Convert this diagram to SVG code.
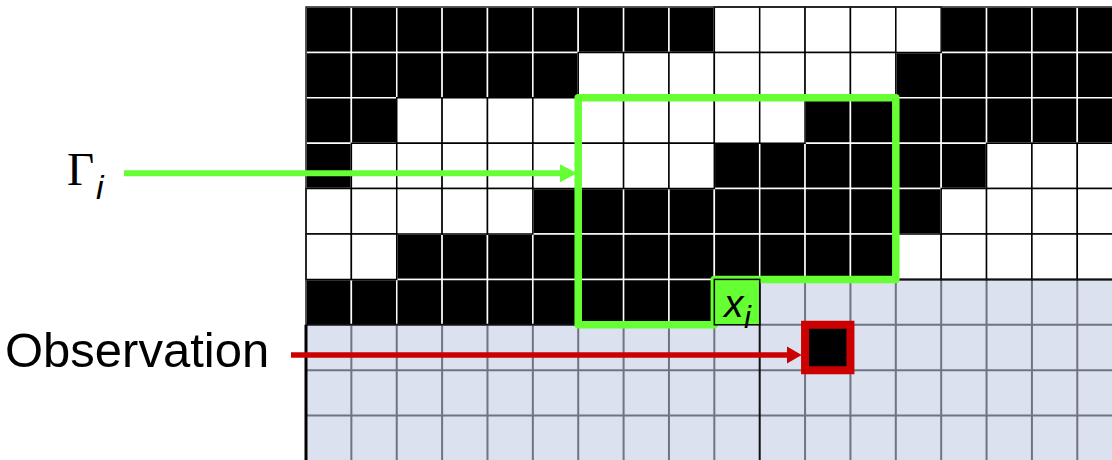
<svg xmlns="http://www.w3.org/2000/svg" width="1112" height="460" viewBox="0 0 1112 460">
  <style>
    .g rect, .g path { vector-effect: non-scaling-stroke; }
    .b { fill: #000; stroke: #fff; stroke-width: 1.5; }
    .w { fill: #fff; stroke: #000; stroke-width: 1.5; }
    .blue { fill: #dce1ef; stroke: none; }
    .gl { fill: none; stroke: #6e7482; stroke-width: 2; }
    .dk { fill: none; stroke: #111; stroke-width: 2; }
    .lbl { font-family: "Liberation Sans", Arial, sans-serif; fill: #000; }
    .ser { font-family: "Liberation Serif", "Times New Roman", serif; fill: #000; }
  </style>
  <defs>
    <marker id="ahG" markerUnits="userSpaceOnUse" markerWidth="17" markerHeight="18" refX="2" refY="9" orient="auto">
      <path d="M0,0 L17,9 L0,18 Z" fill="#66ff33"/>
    </marker>
    <marker id="ahR" markerUnits="userSpaceOnUse" markerWidth="15" markerHeight="18" refX="2" refY="9" orient="auto">
      <path d="M0,0.3 L15,9 L0,17.7 Z" fill="#cc0000"/>
    </marker>
  </defs>
  <rect width="1112" height="460" fill="#fff"/>

  <g id="grid" class="g" transform="translate(306,7) scale(45.37,45.4)">
    <path class="blue" d="M10,6H18V10H0V7H10Z"/>
    <path class="gl" d="M0,8H18M0,9H18M10,7H18M1,7V10M2,7V10M3,7V10M4,7V10M5,7V10M6,7V10M7,7V10M8,7V10M9,7V10M11,6V10M12,6V10M13,6V10M14,6V10M15,6V10M16,6V10M17,6V10"/>
    <g class="b">
      <rect x="0" y="0" width="1" height="1"/><rect x="1" y="0" width="1" height="1"/><rect x="2" y="0" width="1" height="1"/><rect x="3" y="0" width="1" height="1"/><rect x="4" y="0" width="1" height="1"/><rect x="5" y="0" width="1" height="1"/><rect x="6" y="0" width="1" height="1"/><rect x="7" y="0" width="1" height="1"/><rect x="8" y="0" width="1" height="1"/>
      <rect x="14" y="0" width="1" height="1"/><rect x="15" y="0" width="1" height="1"/><rect x="16" y="0" width="1" height="1"/><rect x="17" y="0" width="1" height="1"/>
      <rect x="0" y="1" width="1" height="1"/><rect x="1" y="1" width="1" height="1"/><rect x="2" y="1" width="1" height="1"/><rect x="3" y="1" width="1" height="1"/><rect x="4" y="1" width="1" height="1"/><rect x="5" y="1" width="1" height="1"/>
      <rect x="13" y="1" width="1" height="1"/><rect x="14" y="1" width="1" height="1"/><rect x="15" y="1" width="1" height="1"/><rect x="16" y="1" width="1" height="1"/><rect x="17" y="1" width="1" height="1"/>
      <rect x="0" y="2" width="1" height="1"/><rect x="1" y="2" width="1" height="1"/>
      <rect x="11" y="2" width="1" height="1"/><rect x="12" y="2" width="1" height="1"/><rect x="13" y="2" width="1" height="1"/><rect x="14" y="2" width="1" height="1"/><rect x="15" y="2" width="1" height="1"/><rect x="16" y="2" width="1" height="1"/><rect x="17" y="2" width="1" height="1"/>
      <rect x="0" y="3" width="1" height="1"/>
      <rect x="9" y="3" width="1" height="1"/><rect x="10" y="3" width="1" height="1"/><rect x="11" y="3" width="1" height="1"/><rect x="12" y="3" width="1" height="1"/><rect x="13" y="3" width="1" height="1"/><rect x="14" y="3" width="1" height="1"/>
      <rect x="5" y="4" width="1" height="1"/><rect x="6" y="4" width="1" height="1"/><rect x="7" y="4" width="1" height="1"/><rect x="8" y="4" width="1" height="1"/><rect x="9" y="4" width="1" height="1"/><rect x="10" y="4" width="1" height="1"/><rect x="11" y="4" width="1" height="1"/><rect x="12" y="4" width="1" height="1"/><rect x="13" y="4" width="1" height="1"/>
      <rect x="2" y="5" width="1" height="1"/><rect x="3" y="5" width="1" height="1"/><rect x="4" y="5" width="1" height="1"/><rect x="5" y="5" width="1" height="1"/><rect x="6" y="5" width="1" height="1"/><rect x="7" y="5" width="1" height="1"/><rect x="8" y="5" width="1" height="1"/><rect x="9" y="5" width="1" height="1"/><rect x="10" y="5" width="1" height="1"/><rect x="11" y="5" width="1" height="1"/><rect x="12" y="5" width="1" height="1"/>
      <rect x="0" y="6" width="1" height="1"/><rect x="1" y="6" width="1" height="1"/><rect x="2" y="6" width="1" height="1"/><rect x="3" y="6" width="1" height="1"/><rect x="4" y="6" width="1" height="1"/><rect x="5" y="6" width="1" height="1"/><rect x="6" y="6" width="1" height="1"/><rect x="7" y="6" width="1" height="1"/><rect x="8" y="6" width="1" height="1"/>
    </g>
    <g class="w">
      <rect x="9" y="0" width="1" height="1"/><rect x="10" y="0" width="1" height="1"/><rect x="11" y="0" width="1" height="1"/><rect x="12" y="0" width="1" height="1"/><rect x="13" y="0" width="1" height="1"/>
      <rect x="6" y="1" width="1" height="1"/><rect x="7" y="1" width="1" height="1"/><rect x="8" y="1" width="1" height="1"/><rect x="9" y="1" width="1" height="1"/><rect x="10" y="1" width="1" height="1"/><rect x="11" y="1" width="1" height="1"/><rect x="12" y="1" width="1" height="1"/>
      <rect x="2" y="2" width="1" height="1"/><rect x="3" y="2" width="1" height="1"/><rect x="4" y="2" width="1" height="1"/><rect x="5" y="2" width="1" height="1"/><rect x="6" y="2" width="1" height="1"/><rect x="7" y="2" width="1" height="1"/><rect x="8" y="2" width="1" height="1"/><rect x="9" y="2" width="1" height="1"/><rect x="10" y="2" width="1" height="1"/>
      <rect x="1" y="3" width="1" height="1"/><rect x="2" y="3" width="1" height="1"/><rect x="3" y="3" width="1" height="1"/><rect x="4" y="3" width="1" height="1"/><rect x="5" y="3" width="1" height="1"/><rect x="6" y="3" width="1" height="1"/><rect x="7" y="3" width="1" height="1"/><rect x="8" y="3" width="1" height="1"/>
      <rect x="15" y="3" width="1" height="1"/><rect x="16" y="3" width="1" height="1"/><rect x="17" y="3" width="1" height="1"/>
      <rect x="0" y="4" width="1" height="1"/><rect x="1" y="4" width="1" height="1"/><rect x="2" y="4" width="1" height="1"/><rect x="3" y="4" width="1" height="1"/><rect x="4" y="4" width="1" height="1"/>
      <rect x="14" y="4" width="1" height="1"/><rect x="15" y="4" width="1" height="1"/><rect x="16" y="4" width="1" height="1"/><rect x="17" y="4" width="1" height="1"/>
      <rect x="0" y="5" width="1" height="1"/><rect x="1" y="5" width="1" height="1"/>
      <rect x="13" y="5" width="1" height="1"/><rect x="14" y="5" width="1" height="1"/><rect x="15" y="5" width="1" height="1"/><rect x="16" y="5" width="1" height="1"/><rect x="17" y="5" width="1" height="1"/>
    </g>
    <path class="dk" d="M0,7H9M10,6H18M10,6V10"/>
    <rect x="0" y="0" width="18" height="10" fill="none" stroke="#222" stroke-width="1.5"/>
    <path d="M0,7V10" fill="none" stroke="#000" stroke-width="3"/>
  </g>

  <g id="gamma-region" class="g" transform="translate(306,7) scale(45.37,45.4)">
    <path d="M6,2H13V6H9V7H6Z" fill="none" stroke="#66ff33" stroke-width="7.5" stroke-linejoin="round"/>
  </g>

  <g id="xi-cell">
    <rect x="714.33" y="279.4" width="45.37" height="45.4" fill="#66ff33" stroke="#000" stroke-width="1.5"/>
    <text class="lbl" x="724" y="317" font-size="39" font-style="italic">x</text>
    <text class="lbl" x="744" y="327.5" font-size="31" font-style="italic">i</text>
  </g>

  <g id="observation-cell" class="g" transform="translate(306,7) scale(45.37,45.4)">
    <rect x="11" y="7" width="1" height="1" fill="#000" stroke="#cc0000" stroke-width="8"/>
  </g>

  <g id="gamma-label">
    <text class="ser" x="67" y="185" font-size="47">Γ</text>
    <text class="lbl" x="96" y="199" font-size="34" font-style="italic">i</text>
  </g>

  <g id="observation-label">
    <text class="lbl" x="5" y="366.5" font-size="49">Observation</text>
  </g>

  <g id="connectors">
    <line x1="124" y1="173.3" x2="562" y2="173.3" stroke="#66ff33" stroke-width="6" marker-end="url(#ahG)"/>
    <line x1="291" y1="355" x2="788.7" y2="355" stroke="#cc0000" stroke-width="5.5" marker-end="url(#ahR)"/>
  </g>
</svg>
